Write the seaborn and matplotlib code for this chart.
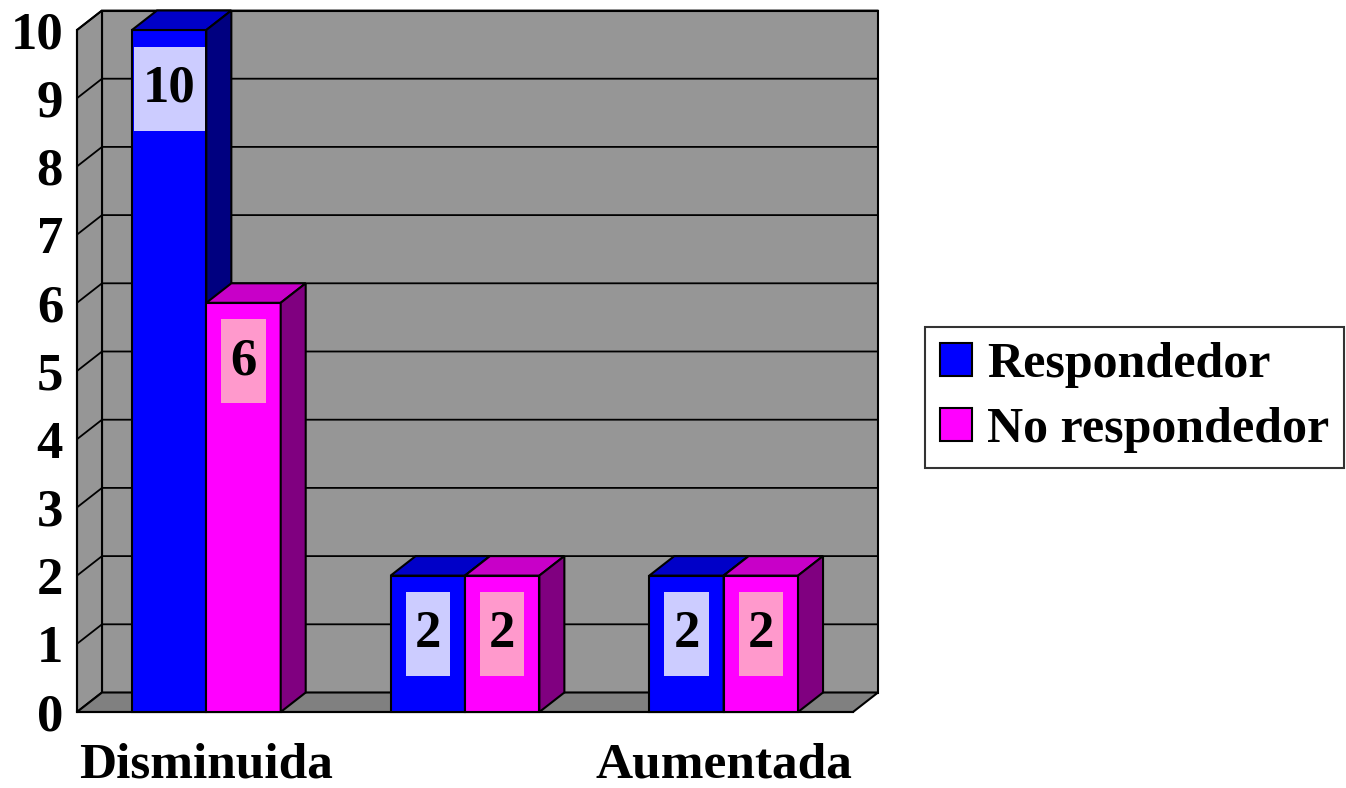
import pandas as pd
import numpy as np
import matplotlib
matplotlib.use("Agg")
import matplotlib.pyplot as plt
from matplotlib.patches import Polygon, Patch, Rectangle
import seaborn as sns

# ==============================================================
# DADOS
# ==============================================================
categorias = ["Disminuida", "Normal", "Aumentada"]   # a do meio nao aparece no eixo
etiquetas_x = ["Disminuida", "", "Aumentada"]
grupos = ["Respondedor", "No respondedor"]
respondedor = [10, 2, 2]
no_respondedor = [6, 2, 2]
ticks_y = list(range(0, 11))

# cores (frente, topo, lado, caixa do rotulo)
cor_frente = ["#0000FF", "#FF00FF"]
cor_topo = ["#0000C8", "#C800C8"]
cor_lado = ["#000080", "#800080"]
cor_caixa = ["#CCCCFF", "#FF99CC"]

df = pd.DataFrame({
    "Categoria": categorias * 2,
    "Grupo": [grupos[0]] * 3 + [grupos[1]] * 3,
    "Valor": respondedor + no_respondedor,
})

# ==============================================================
# FIGURA
# ==============================================================
sns.set_style("white")
plt.rcParams["font.family"] = ["Liberation Serif", "DejaVu Serif"]
plt.rcParams["font.weight"] = "bold"
plt.rcParams["text.color"] = "black"
plt.rcParams["xtick.color"] = "black"
plt.rcParams["ytick.color"] = "black"

fig = plt.figure(figsize=(13.46, 7.88), dpi=100)
ax = fig.add_axes([77 / 1346, 76 / 788, 776 / 1346, 682 / 788])
ax.set_facecolor("none")
ax.set_xlim(-0.5, 2.5)
ax.set_ylim(0, 10)

# profundidade do efeito 3D (em unidades de dados)
px_x = 776 / 3
px_y = 682 / 10
dx = 25 / px_x
dy = 19.5 / px_y

x0, x1 = ax.get_xlim()
y0, y1 = ax.get_ylim()

# parede do fundo, parede esquerda e piso
ax.add_patch(Polygon([(x0 + dx, y0 + dy), (x1 + dx, y0 + dy), (x1 + dx, y1 + dy), (x0 + dx, y1 + dy)],
                     closed=True, fc="#969696", ec="black", lw=1.5, zorder=0, clip_on=False))
ax.add_patch(Polygon([(x0, y0), (x0 + dx, y0 + dy), (x0 + dx, y1 + dy), (x0, y1)],
                     closed=True, fc="#969696", ec="black", lw=1.5, zorder=0, clip_on=False))
for v in ticks_y[1:]:
    ax.plot([x0, x0 + dx, x1 + dx], [v, v + dy, v + dy], color="black", lw=1.3,
            zorder=0.5, clip_on=False, solid_joinstyle="miter")
ax.add_patch(Polygon([(x0, y0), (x1, y0), (x1 + dx, y0 + dy), (x0 + dx, y0 + dy)],
                     closed=True, fc="#808080", ec="black", lw=1.5, zorder=1, clip_on=False))

# barras
sns.barplot(data=df, x="Categoria", y="Valor", hue="Grupo", order=categorias,
            hue_order=grupos, palette=cor_frente, saturation=1, width=0.575,
            edgecolor="black", linewidth=1.5, legend=False, ax=ax, errorbar=None)

barras = []
for g, cont in enumerate(ax.containers):
    for p in cont.patches:
        barras.append((g, p))
barras.sort(key=lambda t: t[1].get_x())

rotulos = []
for i, (g, p) in enumerate(barras):
    bx, bw, bh = p.get_x(), p.get_width(), p.get_height()
    z = 3 + i * 0.1
    p.set_zorder(z)
    p.set_clip_on(False)
    ax.add_patch(Polygon([(bx, bh), (bx + bw, bh), (bx + bw + dx, bh + dy), (bx + dx, bh + dy)],
                         closed=True, fc=cor_topo[g], ec="black", lw=1.5, zorder=z, clip_on=False))
    ax.add_patch(Polygon([(bx + bw, 0), (bx + bw + dx, dy), (bx + bw + dx, bh + dy), (bx + bw, bh)],
                         closed=True, fc=cor_lado[g], ec="black", lw=1.5, zorder=z, clip_on=False))
    t = ax.text(bx + bw / 2, bh - 0.86, f"{bh:g}", ha="center", va="center", fontsize=38,
                fontweight="bold", zorder=10)
    rotulos.append((g, t))

# caixas dos rotulos (mais altas que largas, como no original)
fig.canvas.draw()
rend = fig.canvas.get_renderer()
for g, t in rotulos:
    bb = t.get_window_extent(rend)
    cx, cy = t.get_position()
    w = (bb.width + 18) / px_x
    h = 84 / px_y
    ax.add_patch(Rectangle((cx - w / 2, cy - h / 2), w, h, fc=cor_caixa[g], ec="none",
                           zorder=9, clip_on=False))

# eixos
for s in ["top", "right"]:
    ax.spines[s].set_visible(False)
for s in ["left", "bottom"]:
    ax.spines[s].set_color("black")
    ax.spines[s].set_linewidth(1.5)
    ax.spines[s].set_zorder(2)
ax.set_yticks(ticks_y)
ax.tick_params(axis="y", direction="out", length=7, width=1.5, labelsize=38, pad=3)
ax.set_xticks([0, 1, 2], etiquetas_x)
ax.set_xticks([-0.5, 0.5, 1.5, 2.5], minor=True)
ax.tick_params(axis="x", which="major", length=0, labelsize=37, pad=22)
ax.tick_params(axis="x", which="minor", direction="out", length=7, width=1.5)
ax.set_xlabel("")
ax.set_ylabel("")

# legenda
alcas = [Patch(facecolor=c, edgecolor="black", linewidth=1.5) for c in cor_frente]
leg = fig.legend(alcas, grupos, loc="center left", bbox_to_anchor=(925 / 1346, 0.4955),
                 prop={"size": 36, "weight": "bold"}, frameon=True, fancybox=False,
                 edgecolor="black", handlelength=0.64, handleheight=0.64,
                 handletextpad=0.3, borderpad=0.3, labelspacing=0.38, borderaxespad=0)
leg.get_frame().set_linewidth(1.5)

plt.savefig("out.png", dpi=100)
